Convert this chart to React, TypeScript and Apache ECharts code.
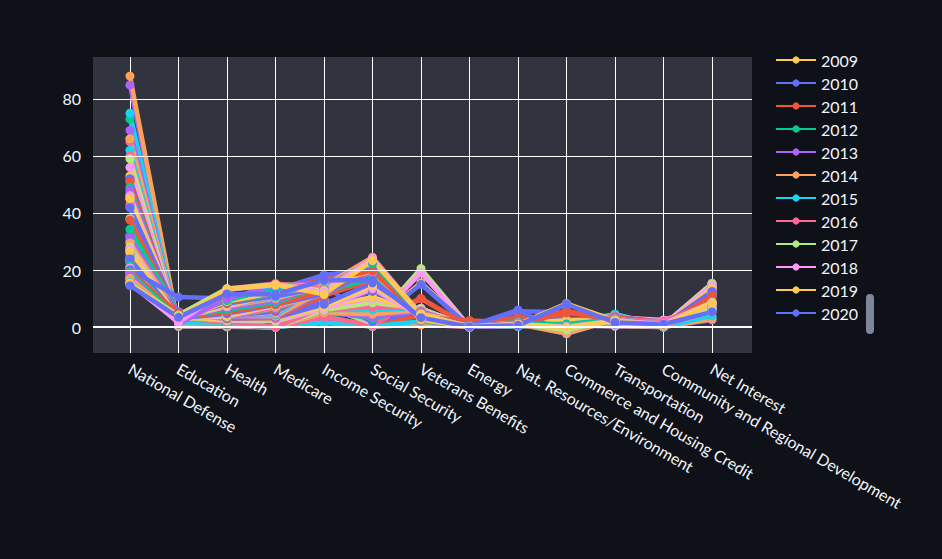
import { useEffect, useRef } from "react";
import * as echarts from "echarts";

const categories = [
  "National Defense", "Education", "Health", "Medicare", "Income Security", "Social Security",
  "Veterans Benefits", "Energy", "Nat. Resources/Environment", "Commerce and Housing Credit",
  "Transportation", "Community and Regional Development", "Net Interest",
];

const firstYear = 1940;

// share of outlays per year, same order as categories
const yearValues: number[][] = [
  [17.5, 1.8, 0.6, 0, 15.5, 0.3, 5.8, 0.1, 5.5, 5.2, 3.5, 0.1, 9.0],
  [47.1, 1.3, 0.4, 0, 9.5, 0.4, 4.0, 0.1, 3.5, 3.0, 2.2, 0.1, 6.0],
  [73.0, 0.7, 0.2, 0, 4.0, 0.3, 1.6, 0.1, 1.5, 2.0, 1.0, 0.1, 3.3],
  [84.9, 0.3, 0.1, 0, 2.0, 0.2, 0.8, 0.1, 0.5, 1.5, 0.5, 0.1, 2.5],
  [88.0, 0.2, 0.1, 0, 1.5, 0.2, 0.8, 0.1, 0.3, 1.0, 0.3, 0.0, 2.8],
  [75.0, 0.2, 0.2, 0, 1.5, 0.3, 2.0, 0.1, 0.2, 0.5, 0.3, 0.0, 3.9],
  [65.0, 0.3, 0.2, 0, 3.5, 0.6, 10.0, 0.1, 0.4, 0.5, 0.3, 0.1, 7.5],
  [38.0, 0.6, 0.3, 0, 7.0, 1.4, 20.5, 0.1, 1.0, 1.0, 0.5, 0.1, 12.0],
  [30.0, 0.7, 0.3, 0, 8.5, 1.6, 19.0, 0.1, 1.6, 0.5, 0.8, 0.1, 13.0],
  [32.0, 0.6, 0.3, 0, 9.0, 1.8, 15.5, 0.1, 2.0, 1.5, 1.1, 0.1, 11.5],
  [32.0, 0.6, 0.5, 0, 10.0, 1.8, 15.0, 0.1, 2.5, 2.5, 1.8, 0.1, 11.0],
  [51.0, 0.8, 0.6, 0, 7.0, 3.5, 10.0, 0.1, 2.5, 1.5, 2.5, 0.1, 9.0],
  [66.0, 0.7, 0.5, 0, 5.5, 3.0, 6.5, 0.1, 2.0, 1.0, 1.2, 0.1, 7.0],
  [69.0, 0.5, 0.4, 0, 5.0, 3.5, 5.5, 0.1, 1.5, 1.0, 1.0, 0.1, 6.5],
  [66.0, 0.5, 0.4, 0, 5.0, 4.5, 6.0, 0.1, 1.5, 0.5, 1.2, 0.1, 7.0],
  [62.0, 0.5, 0.4, 0, 6.0, 6.0, 6.5, 0.1, 1.5, 1.5, 1.0, 0.2, 7.0],
  [60.0, 0.5, 0.4, 0, 6.0, 7.0, 6.5, 0.1, 1.5, 2.0, 1.2, 0.2, 7.0],
  [59.0, 0.6, 0.5, 0, 6.0, 8.5, 6.5, 0.1, 1.5, 1.5, 1.5, 0.1, 7.0],
  [56.0, 0.6, 0.6, 0, 7.0, 10.0, 6.0, 0.1, 1.5, 1.5, 1.8, 0.2, 7.0],
  [53.0, 0.7, 0.7, 0, 7.5, 10.5, 5.5, 0.1, 1.5, 1.5, 3.5, 0.2, 6.5],
  [52.0, 1.0, 0.8, 0, 7.5, 12.5, 5.5, 0.1, 1.5, 1.0, 4.0, 0.2, 7.5],
  [51.0, 1.0, 0.9, 0, 8.5, 13.0, 5.5, 0.1, 1.5, 1.5, 4.0, 0.2, 7.0],
  [49.0, 1.1, 1.0, 0, 8.0, 13.5, 5.0, 0.1, 1.5, 1.5, 4.0, 0.2, 6.5],
  [48.0, 1.2, 1.5, 0, 8.0, 14.0, 4.8, 0.1, 1.5, 1.0, 4.0, 0.2, 6.8],
  [46.0, 1.2, 1.5, 0, 7.5, 14.0, 4.5, 0.1, 1.5, 1.0, 4.5, 0.3, 6.8],
  [42.0, 1.6, 1.6, 0, 7.5, 14.5, 4.6, 0.1, 1.5, 1.0, 4.5, 0.3, 7.2],
  [43.0, 3.1, 1.9, 0, 7.0, 15.5, 4.0, 0.1, 1.5, 1.0, 4.0, 0.7, 6.9],
  [45.0, 3.5, 2.3, 2.0, 6.5, 14.5, 4.0, 0.1, 1.0, 1.0, 3.5, 0.8, 6.6],
  [46.0, 3.9, 2.4, 2.5, 6.5, 13.5, 3.6, 0.1, 1.0, 1.0, 2.7, 0.9, 6.7],
  [45.0, 3.5, 2.5, 3.0, 7.0, 14.5, 3.8, 0.1, 1.0, 0.5, 2.7, 0.9, 7.6],
  [41.8, 4.3, 2.9, 3.2, 8.0, 15.5, 4.4, 0.1, 1.0, 1.0, 3.0, 1.2, 7.4],
  [37.5, 4.3, 3.1, 3.2, 11.0, 16.5, 4.7, 0.1, 1.1, 1.0, 3.1, 1.3, 7.0],
  [34.3, 4.8, 3.6, 3.3, 12.5, 17.0, 4.8, 0.1, 1.2, 1.0, 2.9, 1.4, 6.7],
  [31.2, 4.6, 3.7, 3.3, 12.5, 19.0, 5.0, 0.1, 0.7, 0.5, 3.2, 2.1, 7.1],
  [29.5, 3.9, 3.9, 3.8, 13.0, 20.0, 5.0, 0.1, 1.0, 1.5, 3.0, 1.5, 8.0],
  [26.0, 4.5, 3.9, 4.2, 15.0, 19.5, 5.1, 0.5, 1.2, 1.5, 3.0, 1.3, 7.0],
  [24.1, 4.9, 4.3, 4.6, 17.0, 20.0, 5.0, 1.0, 1.2, 1.5, 3.5, 1.3, 7.2],
  [23.8, 5.0, 4.3, 5.0, 15.5, 20.5, 4.5, 1.5, 1.3, 0.5, 3.3, 2.2, 7.3],
  [22.8, 5.2, 4.1, 5.3, 13.5, 20.0, 4.1, 1.7, 1.3, 1.2, 3.4, 2.5, 7.9],
  [23.1, 5.3, 4.1, 5.7, 13.0, 20.5, 3.7, 1.9, 1.3, 0.9, 3.6, 1.9, 8.7],
  [22.7, 5.4, 4.0, 5.4, 14.0, 20.0, 3.6, 1.7, 1.7, 1.6, 3.6, 1.9, 8.9],
  [23.2, 5.0, 4.0, 5.9, 13.5, 20.5, 3.4, 2.3, 1.6, 0.6, 3.4, 1.6, 10.1],
  [24.8, 3.8, 3.6, 6.3, 13.0, 21.0, 3.3, 0.6, 1.7, 0.5, 2.9, 1.2, 11.4],
  [26.0, 3.5, 3.5, 6.5, 14.5, 20.5, 3.2, 0.5, 1.6, 0.8, 2.7, 0.9, 11.1],
  [26.7, 3.4, 3.6, 6.8, 12.0, 20.5, 3.2, 0.4, 1.5, 0.8, 2.9, 0.9, 13.0],
  [26.7, 3.1, 3.5, 7.1, 13.0, 19.6, 2.8, 0.4, 1.4, 0.5, 2.6, 0.8, 13.7],
  [27.6, 3.0, 3.5, 7.1, 12.0, 20.0, 2.7, 0.4, 1.3, 0.4, 2.8, 0.8, 13.7],
  [28.1, 2.8, 3.7, 7.6, 12.0, 20.6, 2.7, 0.4, 1.2, 0.6, 2.6, 0.6, 13.8],
  [27.3, 2.9, 4.0, 7.4, 12.0, 20.6, 2.8, 0.2, 1.3, 1.7, 2.6, 0.5, 14.3],
  [26.5, 3.1, 4.2, 7.6, 11.5, 20.1, 2.5, 0.3, 1.3, 2.4, 2.3, 0.4, 14.8],
  [23.9, 3.1, 4.7, 7.8, 11.6, 19.8, 2.3, 0.2, 1.4, 5.4, 2.3, 0.7, 14.7],
  [20.6, 3.2, 5.3, 7.9, 12.6, 20.0, 2.3, 0.2, 1.4, 5.7, 2.3, 0.5, 14.7],
  [21.6, 3.3, 6.1, 8.6, 14.6, 20.6, 2.6, 0.4, 1.4, 0.8, 2.4, 0.5, 14.4],
  [20.7, 3.4, 6.7, 9.2, 14.6, 21.6, 2.6, 0.3, 1.4, -1.6, 2.5, 0.6, 14.1],
  [19.3, 3.1, 7.2, 10.0, 14.5, 21.7, 2.5, 0.3, 1.5, -0.4, 2.6, 0.7, 13.9],
  [17.9, 3.6, 7.4, 10.5, 14.4, 22.1, 2.5, 0.3, 1.4, -1.0, 2.6, 0.7, 15.3],
  [17.0, 3.0, 7.3, 11.0, 14.4, 22.5, 2.5, 0.2, 1.4, -0.7, 2.6, 0.7, 15.4],
  [16.9, 3.1, 7.3, 11.5, 14.4, 22.8, 2.5, 0.1, 1.4, -0.1, 2.6, 0.7, 15.2],
  [16.2, 3.1, 7.3, 11.3, 14.4, 22.8, 2.5, 0.1, 1.4, 0.1, 2.5, 0.6, 14.6],
  [16.1, 3.1, 7.7, 11.0, 14.2, 22.9, 2.6, 0.1, 1.4, 0.1, 2.5, 0.6, 13.5],
  [16.5, 3.2, 8.2, 10.9, 13.9, 22.9, 2.6, 0.0, 1.4, 0.2, 2.6, 0.6, 12.5],
  [16.4, 3.3, 8.6, 11.7, 14.5, 23.1, 2.4, 0.0, 1.4, 0.3, 2.7, 0.6, 10.9],
  [17.3, 3.5, 9.0, 11.6, 15.9, 22.6, 2.5, 0.0, 1.4, 0.0, 3.0, 0.6, 8.5],
  [18.7, 3.8, 9.5, 11.8, 15.9, 22.1, 2.7, 0.0, 1.4, 0.0, 3.0, 0.8, 7.1],
  [19.9, 3.9, 10.0, 11.8, 14.9, 21.6, 2.8, 0.0, 1.3, 0.2, 2.9, 0.7, 7.0],
  [20.0, 4.1, 10.1, 12.1, 13.9, 21.1, 2.8, 0.0, 1.2, 0.4, 2.7, 1.0, 7.4],
  [19.7, 3.7, 9.6, 12.9, 13.0, 20.8, 2.6, 0.0, 1.2, 0.4, 2.6, 2.0, 8.5],
  [20.2, 3.3, 9.6, 13.6, 13.1, 21.0, 2.6, 0.0, 1.2, 0.2, 2.7, 1.1, 8.7],
  [20.7, 3.1, 9.5, 13.3, 14.4, 20.7, 2.8, 0.0, 1.1, 1.1, 2.6, 0.8, 8.5],
  [18.8, 2.3, 9.0, 12.1, 15.6, 19.5, 2.7, 0.1, 1.0, 8.2, 2.3, 0.8, 5.3],
  [20.1, 10.5, 10.0, 13.0, 18.3, 20.3, 3.6, 0.3, 6.0, -2.4, 2.6, 0.7, 5.7],
  [19.6, 4.8, 10.3, 13.4, 16.5, 19.6, 3.5, 0.4, 1.2, 5.0, 2.6, 0.6, 6.4],
  [19.2, 3.0, 9.3, 13.7, 15.3, 22.4, 3.9, 0.4, 1.1, 1.1, 2.7, 1.1, 6.2],
  [18.4, 1.1, 10.0, 14.6, 15.3, 23.3, 4.0, 0.4, 1.2, -2.3, 2.7, 1.0, 6.4],
  [17.1, 3.0, 13.0, 15.0, 14.4, 24.5, 4.3, 0.2, 1.0, -2.3, 2.6, 0.6, 6.4],
  [15.6, 3.3, 13.3, 14.5, 13.8, 23.6, 4.4, 0.2, 1.0, -1.0, 2.3, 0.6, 6.1],
  [15.2, 2.5, 13.4, 15.3, 13.4, 23.9, 4.5, 0.1, 1.0, -1.0, 2.5, 0.5, 6.2],
  [14.9, 4.2, 13.5, 14.9, 12.8, 23.8, 4.5, 0.1, 1.0, -1.0, 2.4, 0.6, 6.6],
  [15.2, 1.6, 13.2, 14.7, 12.3, 24.0, 4.3, 0.1, 1.0, 0.2, 2.2, 1.2, 7.9],
  [15.4, 3.3, 13.3, 14.8, 11.5, 23.3, 4.4, 0.1, 0.9, -0.1, 2.1, 0.6, 8.4],
  [14.5, 3.4, 11.6, 11.4, 16.5, 16.3, 3.3, 0.1, 0.6, 8.0, 1.6, 1.0, 5.3],
];

const yTicks = [0, 20, 40, 60, 80];
const palette = ["#636efa", "#EF553B", "#00cc96", "#ab63fa", "#FFA15A", "#19d3f3", "#FF6692", "#B6E880", "#FF97FF", "#FECB52"];
const years = yearValues.map((_, i) => String(firstYear + i));

const Y_MIN = -9.1;
const Y_MAX = 94.7;
const FONT = "Lato, 'Open Sans', sans-serif";

export default function App() {
  const chartRef = useRef<HTMLDivElement>(null);

  useEffect(() => {
    if (!chartRef.current) return;
    document.body.style.margin = "0";
    document.body.style.background = "#0e1118";
    const chart = echarts.init(chartRef.current, null, { renderer: "svg" });

    const series: any[] = yearValues.map((row, i) => ({
      name: years[i],
      type: "line",
      xAxisIndex: 1,
      yAxisIndex: 1,
      data: row,
      symbol: "circle",
      symbolSize: 9,
      lineStyle: { width: 4.5, color: palette[i % 10] },
      itemStyle: { color: palette[i % 10] },
    }));

    // horizontal grid lines across the full plot background
    series.push({
      type: "line",
      xAxisIndex: 0,
      yAxisIndex: 0,
      data: [],
      silent: true,
      markLine: {
        silent: true,
        symbol: "none",
        label: { show: false },
        data: yTicks.map((v) => ({
          yAxis: v,
          lineStyle: { color: "#ffffff", width: v === 0 ? 2 : 1, type: "solid" },
        })),
      },
    });

    chart.setOption({
      animation: false,
      backgroundColor: "#0e1118",
      textStyle: { fontFamily: FONT },
      grid: [
        { left: 93, right: 190, top: 57, bottom: 206, show: true, backgroundColor: "#31343f", borderWidth: 0 },
        { left: 130, right: 230, top: 57, bottom: 206 },
      ],
      xAxis: [
        { gridIndex: 0, type: "value", min: 0, max: 1, show: false },
        {
          gridIndex: 1,
          type: "category",
          data: categories,
          boundaryGap: false,
          axisLine: { show: false },
          axisTick: { show: false },
          splitLine: { show: true, lineStyle: { color: "#ffffff", width: 1 } },
          axisLabel: { rotate: -30, color: "#f2f5fa", fontSize: 16, margin: 14, interval: 0 },
        },
      ],
      yAxis: [
        {
          gridIndex: 0,
          type: "value",
          min: Y_MIN,
          max: Y_MAX,
          splitLine: { show: false },
          axisLine: { show: false },
          axisTick: { show: false },
          axisLabel: { color: "#f2f5fa", fontSize: 16, customValues: yTicks, margin: 12 },
        },
        { gridIndex: 1, type: "value", min: Y_MIN, max: Y_MAX, show: false },
      ],
      legend: {
        type: "scroll",
        orient: "vertical",
        left: 770,
        top: 47,
        height: 302,
        data: years,
        scrollDataIndex: 69,
        itemWidth: 40,
        itemHeight: 9,
        itemGap: 7,
        textStyle: { color: "#f2f5fa", fontSize: 16 },
        pageIconSize: 0,
        pageButtonItemGap: 0,
        pageTextStyle: { color: "rgba(0,0,0,0)", fontSize: 1 },
        pageIconColor: "rgba(0,0,0,0)",
        pageIconInactiveColor: "rgba(0,0,0,0)",
      },
      graphic: [
        {
          type: "rect",
          left: 866,
          top: 294,
          shape: { width: 8, height: 40, r: 4 },
          style: { fill: "#7e869c" },
        },
      ],
      series,
    });

    return () => chart.dispose();
  }, []);

  return <div ref={chartRef} style={{ width: 942, height: 559 }} />;
}
